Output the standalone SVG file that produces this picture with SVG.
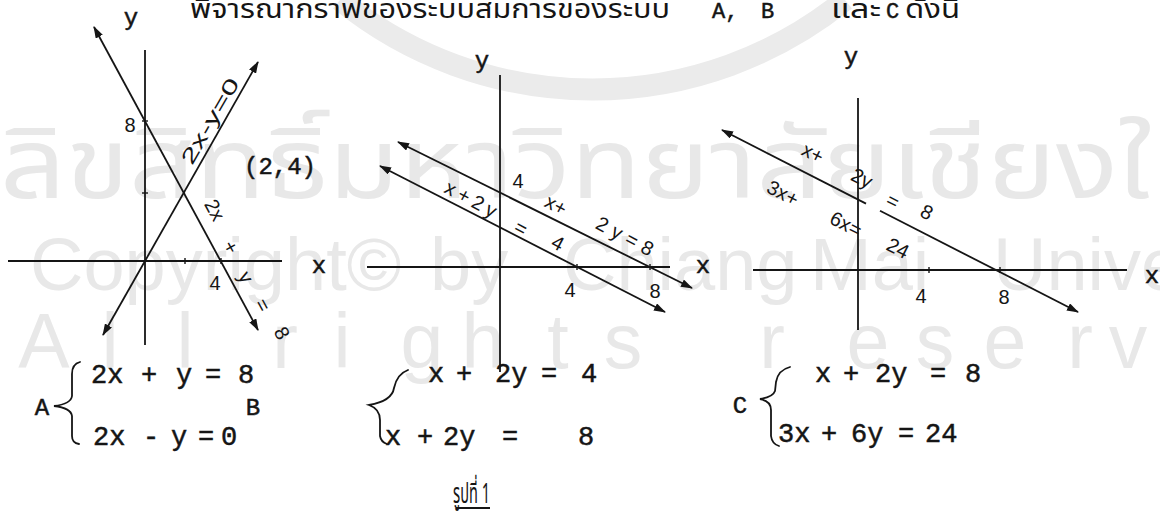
<svg xmlns="http://www.w3.org/2000/svg" width="1160" height="519" viewBox="0 0 1160 519">
<defs>
<style>
.wm{fill:#e8e8e8;font-family:"Liberation Sans",Arial,sans-serif}
.wmt{fill:#e8e8e8;font-family:"Noto Sans Thai","Noto Sans","DejaVu Sans",sans-serif}
.th{fill:#151515;font-family:"Noto Sans Thai","Noto Sans","DejaVu Sans",sans-serif}
.tw{fill:#151515;stroke:#151515;stroke-width:0.5;font-family:"Liberation Mono","Courier New",monospace}
.eq{fill:#151515;stroke:#151515;stroke-width:0.5;font-family:"Liberation Mono","Courier New",monospace;font-size:27px}
.lb{fill:#151515;font-family:"Liberation Sans",Arial,sans-serif;font-size:20px}
.hl{fill:#151515;font-family:"Liberation Sans",Arial,sans-serif;font-size:20px;text-anchor:middle;dominant-baseline:central}
.ax{stroke:#151515;stroke-width:1.8;fill:none}
.ln{stroke:#151515;stroke-width:1.8;fill:none}
.br{stroke:#151515;stroke-width:1.8;fill:none;stroke-linecap:round}
.tk{stroke:#151515;stroke-width:1.4}
</style>
<marker id="ah" viewBox="0 0 12 8" refX="11" refY="4" markerWidth="12" markerHeight="8" markerUnits="userSpaceOnUse" orient="auto-start-reverse"><path d="M0,0 L12,4 L0,8 z" fill="#151515"/></marker>
</defs>
<rect width="1160" height="519" fill="#ffffff"/>

<g id="watermark">
<path d="M340,0 A401,401 0 0 0 845,0" fill="none" stroke="#ebebeb" stroke-width="22"/>
<text class="wmt" x="0" y="198" font-size="98" textLength="1290" lengthAdjust="spacingAndGlyphs">ลิขสิทธิ์มหาวิทยาลัยเชียงใหม่</text>
<text class="wm" font-size="74" y="290"><tspan x="30">Copyright©</tspan><tspan x="430">by</tspan><tspan x="563">Chiang</tspan><tspan x="810">Mai</tspan><tspan x="993">University</tspan></text>
<text class="wm" font-size="77" y="368" text-anchor="middle"><tspan x="44">A</tspan><tspan x="110">l</tspan><tspan x="185">l</tspan><tspan x="285">r</tspan><tspan x="342">i</tspan><tspan x="422">g</tspan><tspan x="483">h</tspan><tspan x="558">t</tspan><tspan x="623">s</tspan><tspan x="772">r</tspan><tspan x="868">e</tspan><tspan x="935">s</tspan><tspan x="1005">e</tspan><tspan x="1080">r</tspan><tspan x="1128">v</tspan><tspan x="1200">e</tspan><tspan x="1270">d</tspan></text>
</g>

<g id="title">
<text class="th" x="190" y="18" font-size="26" textLength="480" lengthAdjust="spacingAndGlyphs">พิจารณากราฟของระบบสมการของระบบ</text>
<text class="tw" x="712" y="18" font-size="22">A,</text>
<text class="tw" x="761" y="18" font-size="22">B</text>
<text class="th" x="831" y="18" font-size="26" textLength="50" lengthAdjust="spacingAndGlyphs">และ</text>
<text class="tw" x="886" y="18" font-size="22">C</text>
<text class="th" x="905" y="18" font-size="26" textLength="55" lengthAdjust="spacingAndGlyphs">ดังนี้</text>
</g>

<g id="graph-A">
<line class="ax" x1="8" y1="261" x2="282" y2="261"/>
<line class="ax" x1="145" y1="50" x2="145" y2="345"/>
<line class="tk" x1="185" y1="258" x2="185" y2="264"/>
<line class="tk" x1="221" y1="258" x2="221" y2="264"/>
<line class="tk" x1="142" y1="193" x2="148" y2="193"/>
<line class="tk" x1="142" y1="121" x2="148" y2="121"/>
<text class="tw" x="131" y="25" font-size="24" text-anchor="middle">y</text>
<text class="tw" x="319" y="273" font-size="24" text-anchor="middle">x</text>
<text class="lb" x="130" y="132" font-size="26" text-anchor="middle">8</text>
<text class="lb" x="215" y="290" font-size="21" text-anchor="middle">4</text>
<text class="tw" x="244" y="174" font-size="24">(2,4)</text>
</g>

<g id="graph-B">
<line class="ax" x1="367" y1="267" x2="670" y2="267"/>
<line class="ax" x1="500" y1="75" x2="500" y2="372"/>
<line class="tk" x1="577" y1="264" x2="577" y2="270"/>
<line class="tk" x1="650" y1="264" x2="650" y2="270"/>
<text class="tw" x="482" y="68" font-size="24" text-anchor="middle">y</text>
<text class="tw" x="703" y="273" font-size="24" text-anchor="middle">x</text>
<text class="lb" x="518" y="188" font-size="21" text-anchor="middle">4</text>
<text class="lb" x="570" y="297" font-size="21" text-anchor="middle">4</text>
<text class="lb" x="655" y="298" font-size="21" text-anchor="middle">8</text>
</g>

<g id="graph-C">
<line class="ax" x1="753" y1="270" x2="1127" y2="270"/>
<line class="ax" x1="858" y1="98" x2="858" y2="330"/>
<line class="tk" x1="929" y1="267" x2="929" y2="273"/>
<line class="tk" x1="1000" y1="267" x2="1000" y2="273"/>
<text class="tw" x="851" y="64" font-size="24" text-anchor="middle">y</text>
<text class="tw" x="1152" y="283" font-size="24" text-anchor="middle">x</text>
<text class="lb" x="921" y="303" font-size="21" text-anchor="middle">4</text>
<text class="lb" x="1004" y="304" font-size="21" text-anchor="middle">8</text>
</g>

<g id="connectors">
<line class="ln" x1="94" y1="27" x2="258" y2="330" marker-start="url(#ah)" marker-end="url(#ah)"/>
<line class="ln" x1="103" y1="335" x2="258" y2="62" marker-start="url(#ah)" marker-end="url(#ah)"/>
<line class="ln" x1="398" y1="142" x2="692" y2="288" marker-start="url(#ah)" marker-end="url(#ah)"/>
<line class="ln" x1="380" y1="166" x2="665" y2="312" marker-start="url(#ah)" marker-end="url(#ah)"/>
<line class="ln" x1="722" y1="130" x2="866" y2="203.6" marker-start="url(#ah)"/>
<line class="ln" x1="880" y1="210.8" x2="1078" y2="312" marker-end="url(#ah)"/>
</g>

<g id="line-labels">
<text class="lb" x="192" y="166" transform="rotate(-60 192 166)" textLength="96" lengthAdjust="spacingAndGlyphs">2x-y=0</text>
<text class="hl" transform="translate(215,210) rotate(61.5)">2x</text>
<text class="hl" transform="translate(231,247) rotate(61.5)">+</text>
<text class="hl" transform="translate(246,277) rotate(61.5)">y</text>
<text class="hl" transform="translate(263,305) rotate(61.5)">=</text>
<text class="hl" transform="translate(282,333) rotate(61.5)">8</text>
<text class="hl" transform="translate(471,199) rotate(28)" textLength="56">x+2y</text>
<text class="hl" transform="translate(521,228) rotate(28)">=</text>
<text class="hl" transform="translate(558,243) rotate(28)">4</text>
<text class="hl" transform="translate(556,205) rotate(28)">x+</text>
<text class="hl" transform="translate(625,236) rotate(28)" textLength="62">2y=8</text>
<text class="hl" transform="translate(813,153) rotate(27)">x+</text>
<text class="hl" transform="translate(862,178) rotate(27)">2y</text>
<text class="hl" transform="translate(893,201) rotate(27)">=</text>
<text class="hl" transform="translate(927,212) rotate(27)">8</text>
<text class="hl" transform="translate(783,193) rotate(27)">3x+</text>
<text class="hl" transform="translate(846,224) rotate(27)">6x=</text>
<text class="hl" transform="translate(898,248) rotate(27)">24</text>
</g>

<g id="system-A">
<text class="tw" x="42" y="415" font-size="24" text-anchor="middle">A</text>
<path class="br" d="M80,362 Q72,364 72,374 L72,396 Q71,404 54,406 Q71,408 72,416 L72,436 Q72,443 79,444"/>
<text class="eq" y="383"><tspan x="91">2x</tspan><tspan x="141">+</tspan><tspan x="176">y</tspan><tspan x="205">=</tspan><tspan x="238">8</tspan></text>
<text class="eq" y="445"><tspan x="93">2x</tspan><tspan x="143">-</tspan><tspan x="171">y</tspan><tspan x="198">=</tspan><tspan x="221">0</tspan></text>
</g>

<g id="system-B">
<text class="tw" x="253" y="415" font-size="24" text-anchor="middle">B</text>
<path class="br" d="M408,370 Q397,374 394,388 Q392,401 369,405 Q380,409 380,420 L380,436 Q381,442 387,444"/>
<text class="eq" y="382"><tspan x="428">x</tspan><tspan x="456">+</tspan><tspan x="495">2y</tspan><tspan x="541">=</tspan><tspan x="581">4</tspan></text>
<text class="eq" y="445"><tspan x="385">x</tspan><tspan x="417">+</tspan><tspan x="443">2y</tspan><tspan x="502">=</tspan><tspan x="578">8</tspan></text>
</g>

<g id="system-C">
<text class="tw" x="740" y="413" font-size="24" text-anchor="middle">C</text>
<path class="br" d="M790,367 Q778,370 776,382 L775,391 Q773,397 760,399 Q771,401 771,410 L771,436 Q772,444 779,446"/>
<text class="eq" y="382"><tspan x="815">x</tspan><tspan x="843">+</tspan><tspan x="875">2y</tspan><tspan x="930">=</tspan><tspan x="965">8</tspan></text>
<text class="eq" y="442"><tspan x="778">3x</tspan><tspan x="821">+</tspan><tspan x="851">6y</tspan><tspan x="898">=</tspan><tspan x="925">24</tspan></text>
</g>

<g id="caption">
<text class="th" x="453" y="503" font-size="28" textLength="37" lengthAdjust="spacingAndGlyphs">รูปที่ 1</text>
<line x1="456" y1="508" x2="490" y2="508" stroke="#151515" stroke-width="1.8"/>
</g>
</svg>
